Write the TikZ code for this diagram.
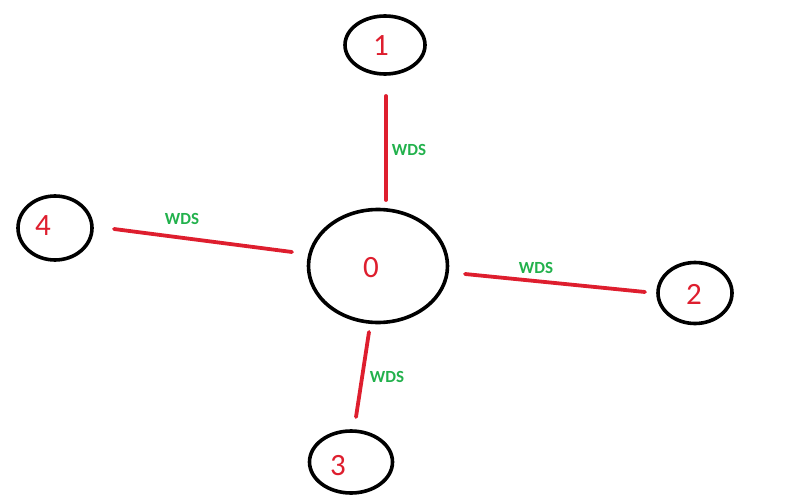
\documentclass[tikz,border=0pt]{standalone}
\usepackage{fontspec}
\setmainfont{Carlito}
\usetikzlibrary{shapes.geometric}
\definecolor{pred}{RGB}{222,30,46}
\definecolor{pgreen}{RGB}{34,177,76}
\begin{document}
\begin{tikzpicture}[x=1pt,y=-1pt,
  nodeell/.style={draw=black,line width=3.6pt,ellipse,inner sep=0pt,text=pred,font=\fontsize{30}{30}\selectfont},
  digit/.style={text=pred,font=\fontsize{31}{31}\selectfont,inner sep=0pt},
  link/.style={draw=pred,line width=3.8pt,line cap=round},
  wds/.style={text=pgreen,font=\bfseries\fontsize{17}{17}\selectfont,inner sep=0pt}]
\useasboundingbox (0,0) rectangle (800,500);
\node[nodeell,minimum width=80pt,minimum height=58pt] (n1) at (385,45) {};
\node[nodeell,minimum width=139pt,minimum height=113pt] (n0) at (378,266) {};
\node[nodeell,minimum width=74pt,minimum height=64pt] (n4) at (55,228) {};
\node[nodeell,minimum width=74pt,minimum height=61pt] (n2) at (695,293) {};
\node[nodeell,minimum width=83pt,minimum height=62pt] (n3) at (351,462) {};
\node[digit] (t1) at (381,46) {1};
\node[digit] (t0) at (371,268) {0};
\node[digit] (t4) at (43,226) {4};
\node[digit] (t2) at (694,294) {2};
\node[digit] (t3) at (338,466) {3};
\coordinate (a1) at (386,96);
\coordinate (b1) at (386,200);
\coordinate (a4) at (114,229);
\coordinate (b4) at (292,252);
\coordinate (a2) at (465,274);
\coordinate (b2) at (645,292);
\coordinate (a3) at (369,332);
\coordinate (b3) at (356,417);
\draw[link] (a1) -- (b1);
\draw[link] (a4) -- (b4);
\draw[link] (a2) -- (b2);
\draw[link] (a3) -- (b3);
\node[wds] (w1) at (409,150) {WDS};
\node[wds] (w4) at (182,219) {WDS};
\node[wds] (w2) at (536,268) {WDS};
\node[wds] (w3) at (387,377) {WDS};
\end{tikzpicture}
\end{document}
